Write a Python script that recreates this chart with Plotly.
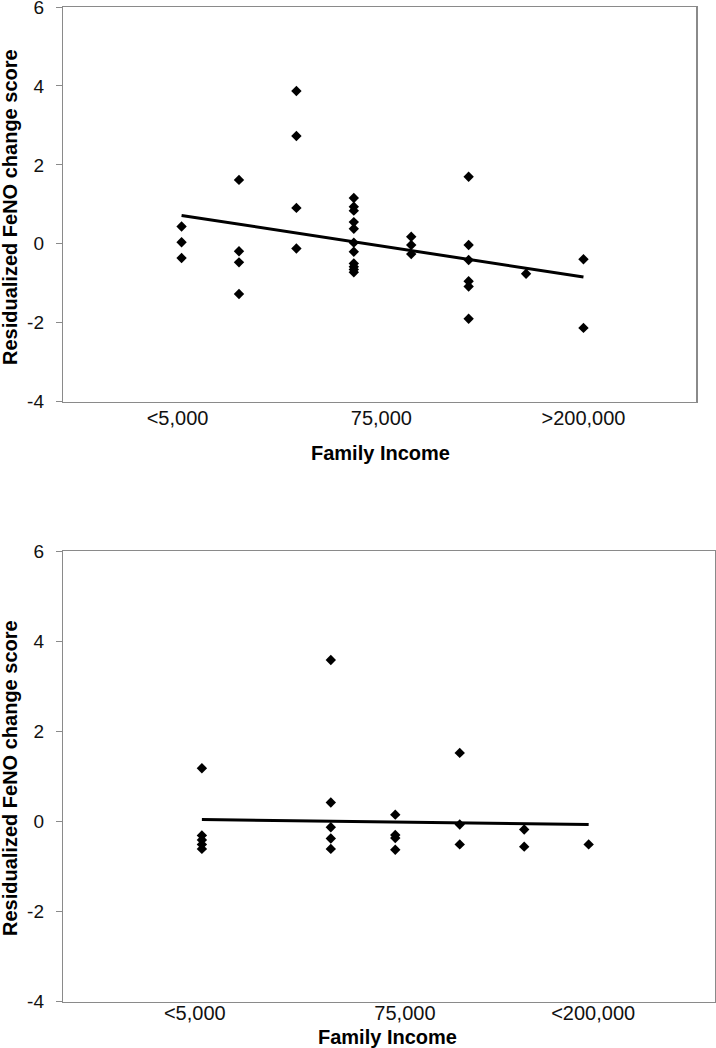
import plotly.graph_objects as go

# ---------------- data ----------------
# Top panel: income category index (1..8) and residualized FeNO change score
top_x = [1, 1, 1,
         2, 2, 2, 2,
         3, 3, 3, 3,
         4, 4, 4, 4, 4, 4, 4, 4, 4, 4, 4,
         5, 5, 5,
         6, 6, 6, 6, 6, 6,
         7,
         8, 8]
top_y = [0.44, 0.04, -0.36,
         1.62, -0.19, -0.47, -1.27,
         3.87, 2.73, 0.91, -0.12,
         1.16, 0.94, 0.84, 0.55, 0.38, 0.03, -0.20, -0.50, -0.58, -0.65, -0.72,
         0.18, -0.03, -0.26,
         1.70, -0.03, -0.41, -0.95, -1.08, -1.90,
         -0.76,
         -0.39, -2.13]
top_trend_x = [1, 8]
top_trend_y = [0.72, -0.84]
top_tick_vals = [0.93, 4.48, 8.0]
top_tick_text = ["<5,000", "75,000", ">200,000"]

# Bottom panel
bot_x = [1, 1, 1, 1, 1,
         3, 3, 3, 3, 3,
         4, 4, 4, 4,
         5, 5, 5,
         6, 6,
         7]
bot_y = [1.18, -0.31, -0.41, -0.51, -0.61,
         3.58, 0.42, -0.13, -0.38, -0.61,
         0.15, -0.30, -0.37, -0.63,
         1.52, -0.07, -0.51,
         -0.18, -0.56,
         -0.51]
bot_trend_x = [1, 7]
bot_trend_y = [0.04, -0.07]
bot_tick_vals = [0.89, 4.15, 7.07]
bot_tick_text = ["<5,000", "75,000", "<200,000"]

y_tick_vals = [-4, -2, 0, 2, 4, 6]
y_tick_text = ["-4", "-2", "0", "2", "4", "6"]
y_title = "Residualized FeNO change score"
x_title = "Family Income"

# ---------------- figure ----------------
W, H = 716, 1048
FONT = "Liberation Sans, Arial, Helvetica, sans-serif"
AXIS_GRAY = "#8a8a8a"

def px_x(p):
    return p / W

def px_y(p):
    return 1 - p / H

fig = go.Figure()

marker = dict(symbol="diamond", size=8, color="black", line=dict(width=0))

fig.add_trace(go.Scatter(x=top_x, y=top_y, mode="markers", marker=marker,
                         xaxis="x", yaxis="y", showlegend=False))
fig.add_trace(go.Scatter(x=top_trend_x, y=top_trend_y, mode="lines",
                         line=dict(color="black", width=3),
                         xaxis="x", yaxis="y", showlegend=False))
fig.add_trace(go.Scatter(x=bot_x, y=bot_y, mode="markers", marker=marker,
                         xaxis="x2", yaxis="y2", showlegend=False))
fig.add_trace(go.Scatter(x=bot_trend_x, y=bot_trend_y, mode="lines",
                         line=dict(color="black", width=3),
                         xaxis="x2", yaxis="y2", showlegend=False))

def xaxis_cfg(domain, rng, vals, text, anchor, standoff):
    return dict(domain=domain, range=rng, anchor=anchor,
                tickmode="array", tickvals=vals, ticktext=text,
                ticks="", showgrid=False, zeroline=False,
                showline=True, linecolor=AXIS_GRAY, linewidth=1.5, mirror=True,
                tickfont=dict(family=FONT, size=20, color="#111"),
                ticklabelstandoff=standoff, ticklabeloverflow="allow",
                fixedrange=True, automargin=False)

def yaxis_cfg(domain, anchor):
    return dict(domain=domain, range=[-4, 6], anchor=anchor,
                tickmode="array", tickvals=y_tick_vals, ticktext=y_tick_text,
                ticks="outside", ticklen=6, tickcolor=AXIS_GRAY, tickwidth=1,
                showgrid=False, zeroline=False,
                showline=True, linecolor=AXIS_GRAY, linewidth=1.5, mirror=True,
                tickfont=dict(family=FONT, size=19, color="#111"),
                ticklabelstandoff=8, ticklabeloverflow="allow",
                fixedrange=True, automargin=False)

fig.update_layout(
    width=W, height=H,
    margin=dict(l=0, r=0, t=0, b=0, autoexpand=False),
    paper_bgcolor="white", plot_bgcolor="white",
    xaxis=xaxis_cfg([px_x(63.3), px_x(696)], [-1.06, 9.96],
                    top_tick_vals, top_tick_text, "y", -2),
    yaxis=yaxis_cfg([px_y(401.7), px_y(7)], "x"),
    xaxis2=xaxis_cfg([px_x(63.3), px_x(715)], [-1.15, 8.96],
                     bot_tick_vals, bot_tick_text, "y2", -7),
    yaxis2=yaxis_cfg([px_y(1001.7), px_y(551)], "x2"),
)

title_font = dict(family=FONT, size=20, color="black")
annos = [
    dict(text="<b>%s</b>" % y_title, x=px_x(10), y=px_y(207), textangle=-90),
    dict(text="<b>%s</b>" % x_title, x=px_x(380), y=px_y(453)),
    dict(text="<b>%s</b>" % y_title, x=px_x(10), y=px_y(778), textangle=-90),
    dict(text="<b>%s</b>" % x_title, x=px_x(387), y=px_y(1037)),
]
for a in annos:
    a.update(xref="paper", yref="paper", showarrow=False,
             xanchor="center", yanchor="middle", font=title_font)
fig.update_layout(annotations=annos)

fig.write_html(
    "out.html",
    config={"displayModeBar": False, "staticPlot": True},
    post_script="document.body.style.margin='0';document.body.style.overflow='hidden';",
)
